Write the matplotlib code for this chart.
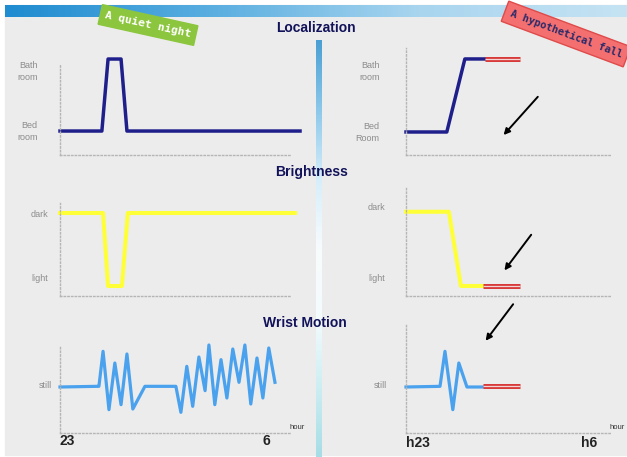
import numpy as np
import matplotlib
matplotlib.use("Agg")
import matplotlib.pyplot as plt
from matplotlib.colors import LinearSegmentedColormap

#------------- 数据 (横轴: 23点之后的小时数) ---------------------#
loc_night_t = [0, 1.42, 1.63, 2.07, 2.27, 8.14]
loc_night_v = [0, 0, 1, 1, 0, 0]
loc_fall_t = [0, 1.56, 2.25, 3.02]
loc_fall_v = [0, 0, 1, 1]
loc_fall_red_t = [3.02, 4.35]
loc_fall_red_v = [1, 1]

bri_night_t = [0, 1.46, 1.63, 2.10, 2.30, 7.97]
bri_night_v = [1, 1, 0, 0, 1, 1]
bri_fall_t = [0, 1.64, 2.10, 2.94]
bri_fall_v = [1, 1, 0, 0]
bri_fall_red_t = [2.94, 4.35]
bri_fall_red_v = [0, 0]

wri_night_t = [0, 1.25, 1.32, 1.46, 1.66, 1.86, 2.07, 2.27, 2.47, 2.88, 3.93, 4.10, 4.30, 4.50,
               4.71, 4.92, 5.05, 5.25, 5.46, 5.66, 5.86, 6.07, 6.27, 6.47, 6.68, 6.88, 7.08, 7.29]
wri_night_v = [0, 0.02, 0.02, 1.07, -0.68, 0.72, -0.53, 0.99, -0.66, 0.02, 0.02, -0.76, 0.62, -0.58,
               0.90, -0.11, 1.26, -0.53, 0.82, -0.33, 1.14, 0.14, 1.26, -0.51, 0.87, -0.33, 1.17, 0.14]
wri_fall_t = [0, 1.30, 1.49, 1.79, 2.02, 2.33, 2.94]
wri_fall_v = [0, 0.02, 1.07, -0.68, 0.72, 0, 0]
wri_fall_red_t = [2.94, 4.35]
wri_fall_red_v = [0.02, 0.02]

hour_labels_night = ['23', '6']
hour_labels_fall = ['h23', 'h6']

W, H = 627, 457
navy = '#1f1f8c'
yellow = '#ffff38'
blue = '#4aa2ee'
red = '#d83a3a'
title_c = '#12125a'
gray = '#8c8c8c'

fig = plt.figure(figsize=(W / 100, H / 100), dpi=100)
fig.patch.set_facecolor('white')

#------------- 背景 (像素坐标) ---------------------#
bg = fig.add_axes([0, 0, 1, 1])
bg.set_xlim(0, W)
bg.set_ylim(H, 0)
bg.axis('off')
bg.add_patch(plt.Rectangle((5, 5), W - 5, 450, color='#ececec', zorder=0))
top_cm = LinearSegmentedColormap.from_list('top', ['#1f8bd0', '#5aaee0', '#a9d5ef', '#c5e3f3'])
bg.imshow(np.linspace(0, 1, 256)[None, :], cmap=top_cm, extent=[5, W, 17, 5], aspect='auto', zorder=1)
div_cm = LinearSegmentedColormap.from_list('div', ['#4a9fd4', '#8cc8ea', '#d6eefa', '#f7fbfd',
                                                   '#f4fbfc', '#cdeef2', '#a6dde6'])
bg.imshow(np.linspace(0, 1, 256)[:, None], cmap=div_cm, extent=[316, 322, 457, 40], aspect='auto', zorder=1)

# 标题
for txt, x, y in [('Localization', 316, 28), ('Brightness', 312, 172), ('Wrist Motion', 305, 323)]:
    bg.text(x, y, txt, ha='center', va='center', fontsize=10, fontweight='bold', color=title_c,
            family=['Liberation Sans Narrow', 'Liberation Sans'], zorder=3)

# 标签
bg.text(148, 25, 'A quiet night', rotation=-12.5, ha='center', va='center', fontsize=8,
        family='DejaVu Sans Mono', fontweight='bold', color='white', zorder=4,
        bbox=dict(boxstyle='square,pad=0.45', fc='#8cc63e', ec='#8cc63e'))
bg.text(566, 34, 'A hypothetical fall', rotation=-20.5, ha='center', va='center', fontsize=7.5,
        family='DejaVu Sans Mono', fontweight='bold', color='#2a2a6a', zorder=4,
        bbox=dict(boxstyle='square,pad=0.55', fc='#f47070', ec='#e04a4a'))


#------------- 坐标轴 ---------------------#
def panel(x0, y0, x1, y1, ylim, yticks, ylabels, pad):
    ax = fig.add_axes([x0 / W, 1 - y1 / H, (x1 - x0) / W, (y1 - y0) / H])
    ax.set_facecolor('none')
    ax.set_xlim(0, 7.8)
    ax.set_ylim(*ylim)
    for s in ['top', 'right']:
        ax.spines[s].set_visible(False)
    for s in ['left', 'bottom']:
        ax.spines[s].set_linestyle(':')
        ax.spines[s].set_color('#b5b5b5')
        ax.spines[s].set_linewidth(1)
    ax.set_xticks([])
    ax.set_yticks(yticks)
    ax.set_yticklabels(ylabels, fontsize=6.5, color=gray, family='Liberation Sans', linespacing=1.4)
    ax.tick_params(axis='y', length=0, pad=pad)
    return ax


def red_line(ax, t, v):
    ax.plot(t, v, color=red, lw=3.6, solid_capstyle='butt', clip_on=False, zorder=3)
    ax.plot(t, v, color='#f2d6d6', lw=0.9, solid_capstyle='butt', clip_on=False, zorder=4)


def arrow(ax, start, end):
    ax.annotate('', xy=end, xytext=start, annotation_clip=False,
                arrowprops=dict(arrowstyle='-|>', color='black', lw=1.4, mutation_scale=9))


# Localization
a1 = panel(60, 65, 290, 155, (-0.333, 0.917), [0.03, 0.86], ['Bed\nroom', 'Bath\nroom'], 16)
a1.plot(loc_night_t, loc_night_v, color=navy, lw=2.5, clip_on=False)
a2 = panel(406, 48, 610, 155, (-0.315, 1.15), [0.03, 0.86], ['Bed\nRoom', 'Bath\nroom'], 19)
a2.plot(loc_fall_t, loc_fall_v, color=navy, lw=2.5, clip_on=False)
red_line(a2, loc_fall_red_t, loc_fall_red_v)
arrow(a2, (5.11, 0.51), (3.66, -0.07))

# Brightness
b1 = panel(60, 203, 290, 296, (-0.137, 1.137), [0.11, 1.0], ['light', 'dark'], 8.5)
b1.plot(bri_night_t, bri_night_v, color=yellow, lw=2.9, clip_on=False)
b2 = panel(406, 188, 610, 296, (-0.135, 1.32), [0.12, 1.07], ['light', 'dark'], 15)
b2.plot(bri_fall_t, bri_fall_v, color=yellow, lw=2.9, clip_on=False)
red_line(b2, bri_fall_red_t, bri_fall_red_v)
arrow(b2, (4.85, 0.72), (3.70, 0.18))

# Wrist Motion
c1 = panel(60, 345, 290, 433, (-1.38, 1.26), [0.09], ['still'], 6)
c1.plot(wri_night_t, wri_night_v, color=blue, lw=2.3, clip_on=False)
c2 = panel(406, 325, 610, 433, (-1.38, 1.86), [0.09], ['still'], 14)
c2.plot(wri_fall_t, wri_fall_v, color=blue, lw=2.3, clip_on=False)
red_line(c2, wri_fall_red_t, wri_fall_red_v)
arrow(c2, (4.16, 2.55), (2.98, 1.32))

# 时间刻度
for ax, labs in [(c1, hour_labels_night), (c2, hour_labels_fall)]:
    ax.text(0, -0.09, labs[0], transform=ax.get_xaxis_transform(), ha='left', va='center',
            fontsize=10, fontweight='bold', color='#222222', family='Liberation Sans')
    ax.text(7.0, -0.09, labs[1], transform=ax.get_xaxis_transform(), ha='center', va='center',
            fontsize=10, fontweight='bold', color='#222222', family='Liberation Sans')
    ax.text(1.0, 0.02, 'hour', transform=ax.transAxes, ha='left', va='bottom',
            fontsize=5.5, color='#333333', family='Liberation Sans')

fig.savefig('out.png', dpi=100, facecolor=fig.get_facecolor())
